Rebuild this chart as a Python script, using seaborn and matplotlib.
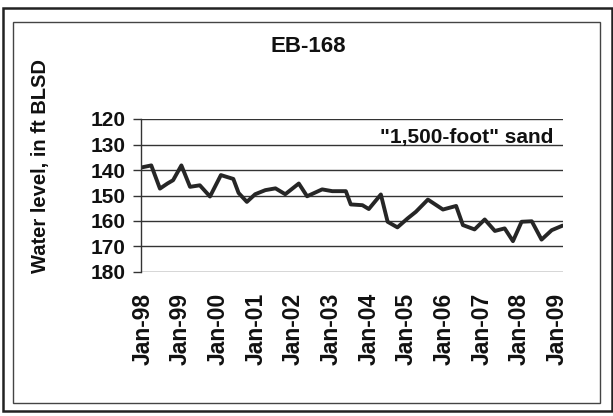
import matplotlib
matplotlib.use("Agg")
import matplotlib.pyplot as plt
import seaborn as sns
import pandas as pd
from matplotlib.patches import Rectangle

sns.set_theme(style="white")
plt.rcParams['font.family'] = ['Liberation Sans', 'DejaVu Sans']

# Data (decimal years, water level in ft below land surface)
years = [1997.96, 1998.22, 1998.45, 1998.65, 1998.8, 1999.02, 1999.25, 1999.51, 1999.78,
         2000.07, 2000.4, 2000.54, 2000.76, 2000.98, 2001.25, 2001.52, 2001.78,
         2002.14, 2002.36, 2002.76, 2003.03, 2003.39, 2003.52, 2003.83, 2004.0,
         2004.32, 2004.5, 2004.76, 2005.03, 2005.25, 2005.57, 2005.97, 2006.32,
         2006.5, 2006.81, 2007.08, 2007.35, 2007.61, 2007.83, 2008.06, 2008.33,
         2008.59, 2008.86, 2009.15]
levels = [139.0, 138.2, 147.3, 145.3, 144.0, 138.2, 146.6, 146.0, 150.4,
          142.0, 143.5, 149.0, 152.5, 149.5, 147.9, 147.2, 149.5,
          145.3, 150.3, 147.6, 148.3, 148.3, 153.5, 153.8, 155.3,
          149.6, 160.3, 162.5, 159.0, 156.4, 151.6, 155.5, 154.1,
          161.6, 163.3, 159.4, 163.9, 162.9, 167.9, 160.3, 160.1,
          167.3, 163.6, 161.8]
tick_years = list(range(1998, 2010))
tick_labels = ["Jan-98", "Jan-99", "Jan-00", "Jan-01", "Jan-02", "Jan-03",
               "Jan-04", "Jan-05", "Jan-06", "Jan-07", "Jan-08", "Jan-09"]
y_ticks = [120, 130, 140, 150, 160, 170, 180]

df = pd.DataFrame({"year": years, "level": levels})

fig = plt.figure(figsize=(6.13, 4.16), dpi=100)
ax = fig.add_axes([141/613, 1-272/416, (563-141)/613, (272-119)/416])

sns.lineplot(data=df, x="year", y="level", ax=ax, color="#262626",
             linewidth=2.8, sort=False)

ax.set_ylim(180, 120)
ax.set_xlim(1997.947, 2009.16)
ax.set_yticks(y_ticks)
ax.set_yticklabels([str(v) for v in y_ticks], fontsize=15, fontweight="bold",
                   color="#111111")
ax.set_xticks(tick_years)
ax.set_xticklabels(tick_labels, rotation=90, fontsize=16.5, fontweight="bold",
                   color="#111111")
ax.tick_params(axis="y", length=6, width=1, color="#333333", pad=5, left=True)
ax.tick_params(axis="x", length=0, pad=15)
ax.yaxis.grid(True, color="#333333", linewidth=1)
ax.xaxis.grid(False)
for s in ["top", "right", "bottom"]:
    ax.spines[s].set_visible(False)
ax.spines["left"].set_color("#333333")
ax.spines["left"].set_linewidth(1)
ax.set_xlabel("")
ax.set_ylabel("Water level, in ft BLSD", fontsize=14.5, fontweight="bold",
              color="#111111")
ax.yaxis.set_label_coords(-0.215, 0.69)

ax.text(0.772, 0.88, '"1,500-foot" sand', transform=ax.transAxes, ha="center",
        va="center", fontsize=15, fontweight="bold", color="#111111")
fig.text(308/613, 1-47/416, "EB-168", ha="center", va="center",
         fontsize=16, fontweight="bold", color="#111111")

# frames
fig.patches.append(Rectangle((3/613, 1-411/416), 609/613, 403/416,
                             transform=fig.transFigure, fill=False,
                             edgecolor="#222222", linewidth=1.8))
fig.patches.append(Rectangle((13/613, 1-403/416), 587/613, 381/416,
                             transform=fig.transFigure, fill=False,
                             edgecolor="#444444", linewidth=1.0))

fig.savefig("out.png", dpi=100, facecolor="white")
